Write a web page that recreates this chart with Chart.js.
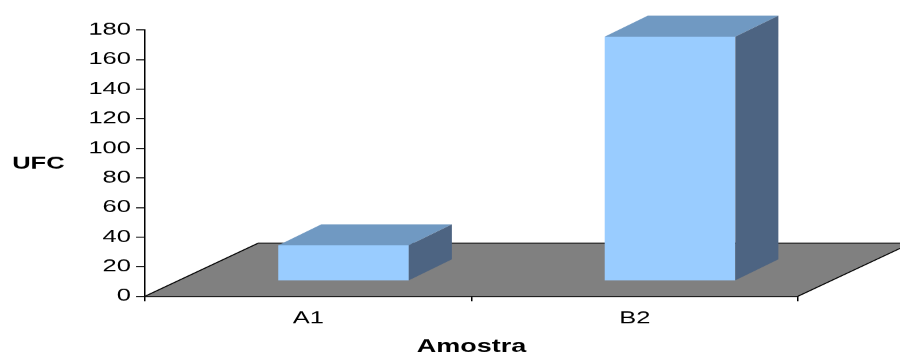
<!DOCTYPE html>
<html>
<head>
<meta charset="utf-8">
<script src="https://cdn.jsdelivr.net/npm/chart.js@4/dist/chart.umd.min.js"></script>
<style>
  html, body { margin: 0; padding: 0; background: #ffffff; overflow: hidden; }
  /* the chart is laid out on a narrower canvas and widened horizontally */
  #wrap { width: 600px; height: 356px; transform: scaleX(1.5); transform-origin: 0 0; }
</style>
</head>
<body>
<div id="wrap"><canvas id="chart" width="600" height="356"></canvas></div>
<script>
// Data
const categories = ['A1', 'B2'];
const ufcValues = [24, 165];
const yMin = 0;
const yMax = 180;
const yStep = 20;
const xTitle = 'Amostra';
const yTitle = 'UFC';

// 3D look
const FLOOR_DX = 75.3, FLOOR_DY = 53;   // floor depth
const BAR_OX = 23.5, BAR_OY = -15.5;    // front face position on the floor
const BAR_DX = 28.7, BAR_DY = 21;       // bar depth
const FRONT = '#99CCFF', TOP = '#7099C2', SIDE = '#4D6482', FLOOR = '#808080';
const FONT = '"Liberation Sans", Arial, sans-serif';

const floorPlugin = {
  id: 'floor3d',
  beforeDraw(chart) {
    const { ctx, chartArea: { left, right, bottom } } = chart;
    ctx.save();
    ctx.beginPath();
    ctx.moveTo(left, bottom);
    ctx.lineTo(right, bottom);
    ctx.lineTo(right + FLOOR_DX, bottom - FLOOR_DY);
    ctx.lineTo(left + FLOOR_DX, bottom - FLOOR_DY);
    ctx.closePath();
    ctx.fillStyle = FLOOR;
    ctx.fill();
    ctx.lineWidth = 1;
    ctx.strokeStyle = '#000000';
    ctx.beginPath();
    ctx.moveTo(left, bottom);
    ctx.lineTo(left + FLOOR_DX, bottom - FLOOR_DY);
    ctx.moveTo(right, bottom);
    ctx.lineTo(right + FLOOR_DX, bottom - FLOOR_DY);
    ctx.stroke();
    ctx.strokeStyle = '#3a3a3a';
    ctx.lineWidth = 1.5;
    ctx.beginPath();
    ctx.moveTo(left + FLOOR_DX, bottom - FLOOR_DY);
    ctx.lineTo(right + FLOOR_DX, bottom - FLOOR_DY);
    ctx.stroke();
    ctx.restore();
  }
};

const boxPlugin = {
  id: 'box3d',
  beforeDatasetDraw(chart) {
    chart.ctx.save();
    chart.ctx.translate(BAR_OX, BAR_OY);
  },
  afterDatasetDraw(chart) {
    chart.ctx.restore();
  },
  afterDatasetsDraw(chart) {
    const ctx = chart.ctx;
    chart.getDatasetMeta(0).data.forEach(bar => {
      const { x, y, base, width } = bar.getProps(['x', 'y', 'base', 'width'], true);
      const l = x - width / 2 + BAR_OX;
      const r = x + width / 2 + BAR_OX;
      const t = y + BAR_OY;
      const b = base + BAR_OY;
      ctx.save();
      ctx.fillStyle = TOP;
      ctx.beginPath();
      ctx.moveTo(l, t);
      ctx.lineTo(r, t);
      ctx.lineTo(r + BAR_DX, t - BAR_DY);
      ctx.lineTo(l + BAR_DX, t - BAR_DY);
      ctx.closePath();
      ctx.fill();
      ctx.fillStyle = SIDE;
      ctx.beginPath();
      ctx.moveTo(r, t);
      ctx.lineTo(r + BAR_DX, t - BAR_DY);
      ctx.lineTo(r + BAR_DX, b - BAR_DY);
      ctx.lineTo(r, b);
      ctx.closePath();
      ctx.fill();
      ctx.restore();
    });
  }
};

// horizontal value-axis title on the left
const yTitlePlugin = {
  id: 'yTitleFlat',
  afterDraw(chart) {
    const ctx = chart.ctx;
    ctx.save();
    ctx.font = 'bold 17px ' + FONT;
    ctx.fillStyle = '#000000';
    ctx.textAlign = 'center';
    ctx.textBaseline = 'middle';
    ctx.fillText(yTitle, 25.6, 164);
    ctx.restore();
  }
};

new Chart(document.getElementById('chart'), {
  type: 'bar',
  data: {
    labels: categories,
    datasets: [{
      label: yTitle,
      data: ufcValues,
      backgroundColor: FRONT,
      borderWidth: 0,
      barPercentage: 0.4,
      categoryPercentage: 1,
      clip: false
    }]
  },
  options: {
    responsive: false,
    maintainAspectRatio: false,
    devicePixelRatio: 1.5,
    animation: false,
    layout: { padding: { top: 30, right: 68, left: 0, bottom: 0 } },
    plugins: { legend: { display: false }, tooltip: { enabled: false } },
    scales: {
      x: {
        afterFit(s) { s.height = 59.7; },
        grid: { drawOnChartArea: false, offset: true, tickLength: 5, color: '#000000' },
        border: { display: true, color: '#000000', width: 1 },
        ticks: { color: '#000000', padding: 7, font: { family: FONT, size: 17 } },
        title: { display: true, text: xTitle, color: '#000000', padding: { top: 0, bottom: 0 },
                 font: { family: FONT, size: 18, weight: 'bold', lineHeight: 1 } }
      },
      y: {
        min: yMin,
        max: yMax,
        afterFit(s) { s.width = 96.7; },
        grid: { drawOnChartArea: false, tickLength: 6, color: '#000000' },
        border: { display: true, color: '#000000', width: 1 },
        ticks: { stepSize: yStep, color: '#000000', padding: 3.4, font: { family: FONT, size: 17 } }
      }
    }
  },
  plugins: [floorPlugin, boxPlugin, yTitlePlugin]
});
</script>
</body>
</html>
